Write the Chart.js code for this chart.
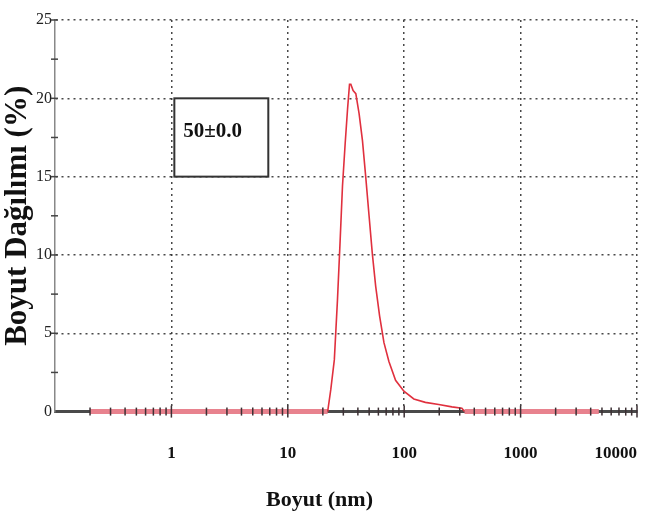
<!DOCTYPE html>
<html>
<head>
<meta charset="utf-8">
<script src="https://cdn.jsdelivr.net/npm/chart.js@4/dist/chart.umd.min.js"></script>
<style>
    html, body { margin: 0; padding: 0; background: #fff; }
    #wrap { width: 651px; height: 522px; }
</style>
</head>
<body>
<div id="wrap"><canvas id="chart"></canvas></div>
<script>

let sizes = [0.2, 22, 23.4, 25.1, 26.7, 28, 29.5, 31.1, 32.6, 33.9, 34.8, 36.4, 38.4, 41, 43.8, 46.7,
    49.9, 53.2, 56.9, 61.5, 67, 73.9, 84.3, 99.4, 121, 152, 198, 257, 313, 330, 4700];
let percents = [0, 0, 1.4, 3.3, 7.1, 10.5, 14.4, 17.1, 19.3, 20.9, 20.9, 20.5, 20.3, 19.0, 17.3, 15.0,
    12.5, 10.1, 8.0, 6.1, 4.4, 3.2, 2.0, 1.3, 0.81, 0.59, 0.45, 0.30, 0.21, 0, 0];

let xMin = 0.1;
let xMax = 10000;
let yMin = 0;
let yMax = 25;
let xLabels = [1, 10, 100, 1000, 10000];

let boxX = [1.06, 6.8];
let boxY = [15, 20];
let boxText = '50±0.0';

let serif = "'Liberation Serif', 'Times New Roman', serif";

function isDecade(v) {
    /*
        Prüft ob ein Wert eine Zehnerpotenz ist.
     */
    let l = Math.log10(v);
    return Math.abs(l - Math.round(l)) < 1e-9;
}

function buildLogTicks() {
    /*
        Alle Ticks 1..9 pro Dekade, von xMin bis xMax.
     */
    let ticks = [];
    for (let d = Math.log10(xMin); d < Math.log10(xMax); d++) {
        for (let m = 1; m <= 9; m++) {
            ticks.push({value: Number((m * Math.pow(10, d)).toPrecision(3))});
        }
    }
    ticks.push({value: xMax});
    return ticks;
}

let tickMarks = {
    id: 'tickMarks',
    afterDatasetsDraw(chart) {
        let ctx = chart.ctx;
        let area = chart.chartArea;
        let x = chart.scales.x;
        let y = chart.scales.y;
        ctx.save();
        ctx.strokeStyle = '#3c3034';
        ctx.lineWidth = 1.5;
        x.ticks.forEach(function (t) {
            if (t.value === xMin) return;
            let px = x.getPixelForValue(t.value);
            let h = isDecade(t.value) ? 6 : 4;
            ctx.beginPath();
            ctx.moveTo(px, area.bottom - h);
            ctx.lineTo(px, area.bottom + h);
            ctx.stroke();
        });
        ctx.strokeStyle = '#444';
        y.ticks.forEach(function (t) {
            if (t.value === yMin) return;
            let py = y.getPixelForValue(t.value);
            ctx.beginPath();
            ctx.moveTo(area.left - 4, py);
            ctx.lineTo(area.left + 3, py);
            ctx.stroke();
        });
        ctx.restore();
    }
};

let infoBox = {
    id: 'infoBox',
    afterDatasetsDraw(chart) {
        let ctx = chart.ctx;
        let x = chart.scales.x;
        let y = chart.scales.y;
        let left = x.getPixelForValue(boxX[0]);
        let right = x.getPixelForValue(boxX[1]);
        let top = y.getPixelForValue(boxY[1]);
        let bottom = y.getPixelForValue(boxY[0]);
        ctx.save();
        ctx.fillStyle = '#fff';
        ctx.fillRect(left, top, right - left, bottom - top);
        ctx.strokeStyle = '#333';
        ctx.lineWidth = 2;
        ctx.strokeRect(left, top, right - left, bottom - top);
        ctx.fillStyle = '#111';
        ctx.font = 'bold 21px ' + serif;
        ctx.textBaseline = 'middle';
        ctx.textAlign = 'left';
        ctx.fillText(boxText, left + 9, top + 33);
        ctx.restore();
    }
};

let points = sizes.map(function (s, i) {
    return {x: s, y: percents[i]};
});

let baseline = function (ctx) {
    return ctx.p0.parsed.y === 0 && ctx.p1.parsed.y === 0;
};

new Chart(document.getElementById('chart'), {
    type: 'line',
    data: {
        datasets: [{
            data: points,
            borderColor: '#e0303e',
            borderWidth: 1.6,
            pointRadius: 0,
            tension: 0,
            clip: false,
            segment: {
                borderWidth: function (ctx) { return baseline(ctx) ? 5 : undefined; },
                borderColor: function (ctx) { return baseline(ctx) ? '#e8828e' : undefined; }
            }
        }]
    },
    options: {
        responsive: true,
        maintainAspectRatio: false,
        animation: false,
        layout: {padding: {left: 2, right: 14, top: 20, bottom: 0}},
        plugins: {
            legend: {display: false},
            tooltip: {enabled: false},
            title: {
                display: true,
                position: 'bottom',
                text: 'Boyut (nm)',
                color: '#111',
                font: {family: serif, size: 22, weight: 'bold'},
                padding: {top: 22, bottom: 8}
            }
        },
        scales: {
            x: {
                type: 'logarithmic',
                min: xMin,
                max: xMax,
                afterBuildTicks: function (scale) {
                    scale.ticks = buildLogTicks();
                },
                afterFit: function (scale) {
                    // Label-Abstand soll die Breite nicht verkleinern
                    scale.paddingLeft = 0;
                    scale.paddingRight = 0;
                    scale.height = 54;
                },
                ticks: {
                    autoSkip: false,
                    maxRotation: 0,
                    align: 'inner',
                    padding: 32,
                    color: '#111',
                    font: {family: serif, size: 17, weight: 'bold'},
                    callback: function (v) {
                        return xLabels.indexOf(v) >= 0 ? String(v) : '';
                    }
                },
                grid: {
                    drawTicks: false,
                    lineWidth: 1.5,
                    color: function (ctx) {
                        let v = ctx.tick ? ctx.tick.value : 0;
                        return (v !== xMin && isDecade(v)) ? 'rgba(40,40,40,0.85)' : 'rgba(0,0,0,0)';
                    }
                },
                border: {display: true, color: '#4a4a4a', width: 3, dash: [2, 4]}
            },
            y: {
                min: yMin,
                max: yMax,
                ticks: {
                    stepSize: 2.5,
                    autoSkip: false,
                    padding: 3,
                    color: '#222',
                    font: {family: serif, size: 16},
                    callback: function (v) {
                        return v % 5 === 0 ? String(v) : '';
                    }
                },
                grid: {
                    drawTicks: false,
                    lineWidth: 1.5,
                    color: function (ctx) {
                        let v = ctx.tick ? ctx.tick.value : 0;
                        return (v !== 0 && v % 5 === 0) ? 'rgba(40,40,40,0.85)' : 'rgba(0,0,0,0)';
                    }
                },
                border: {display: true, color: '#888', width: 1.5, dash: [2, 4]},
                title: {
                    display: true,
                    text: 'Boyut Dağılımı (%)',
                    color: '#111',
                    font: {family: serif, size: 31, weight: 'bold', lineHeight: 1.0},
                    padding: 0
                }
            }
        }
    },
    plugins: [tickMarks, infoBox]
});

</script>
</body>
</html>
